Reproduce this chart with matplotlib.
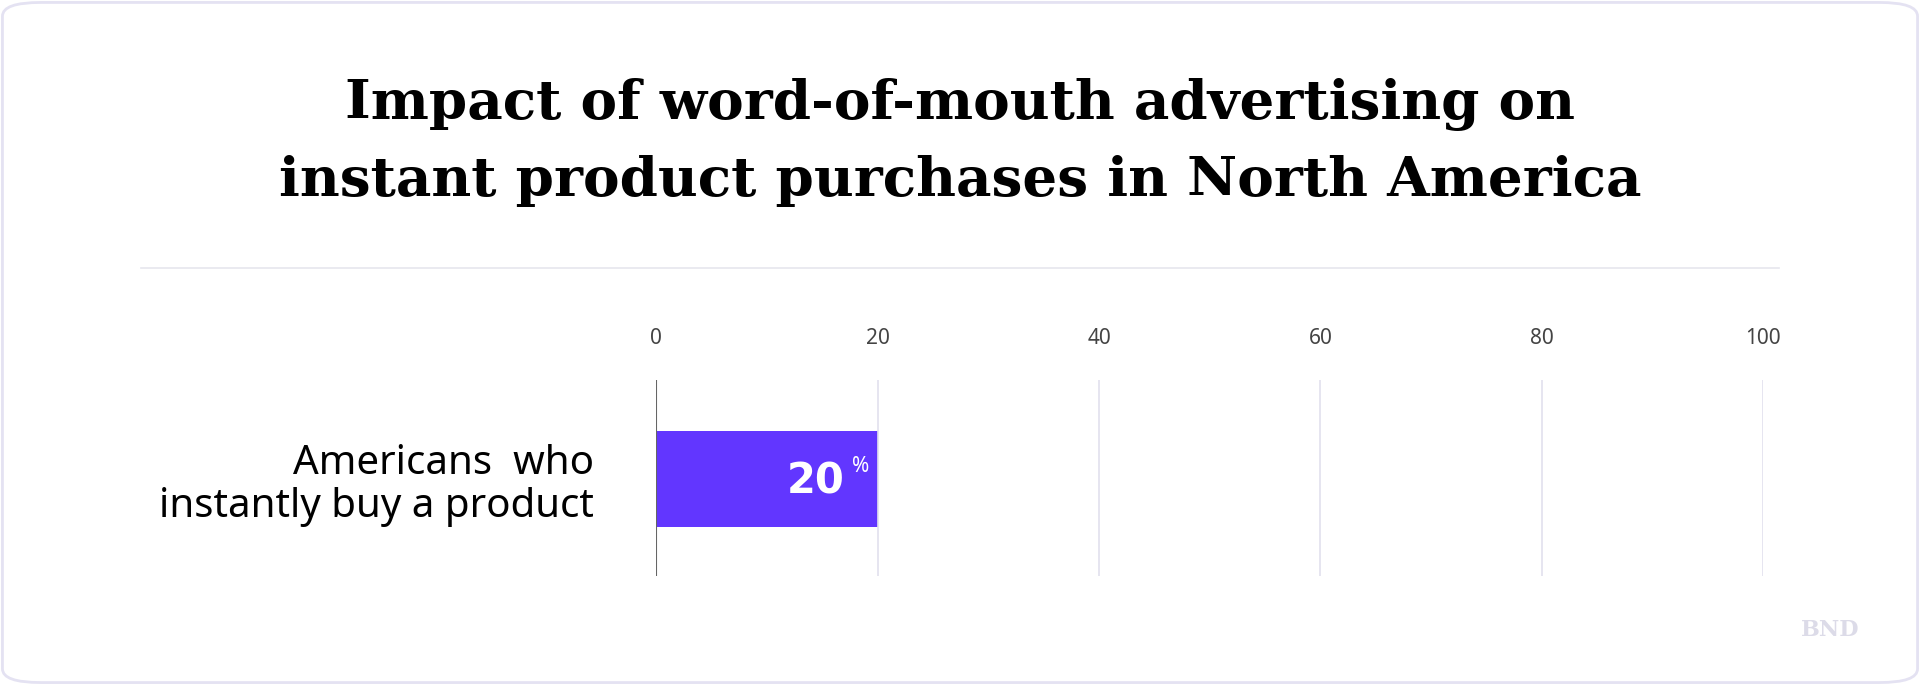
import matplotlib.pyplot as plt
from matplotlib.patches import FancyBboxPatch

categories = ["Americans  who\ninstantly buy a product"]
values = [20]
ticks = [0, 20, 40, 60, 80, 100]

W, H = 1568, 559  # layout reference units
fig = plt.figure(figsize=(19.2, 6.85), dpi=100)
fig.patches.append(FancyBboxPatch((2 / W, 2 / H), 1 - 4 / W, 1 - 4 / H,
                                  boxstyle="round,pad=0,rounding_size=0.02",
                                  transform=fig.transFigure, fc="white",
                                  ec="#e4e2f2", lw=2, zorder=-5))

fig.text(0.5, 1 - 85 / H, "Impact of word-of-mouth advertising on",
         ha="center", va="center", fontsize=39.5, fontweight="bold", family="DejaVu Serif")
fig.text(0.5, 1 - 148 / H, "instant product purchases in North America",
         ha="center", va="center", fontsize=39.5, fontweight="bold", family="DejaVu Serif")
fig.add_artist(plt.Line2D([115 / W, 1453 / W], [1 - 219 / H] * 2,
                          transform=fig.transFigure, color="#e6e6ee", lw=1.2))

ax = fig.add_axes([536 / W, 1 - 470 / H, 904 / W, 160 / H])
ax.patch.set_visible(False)
ax.set_xlim(0, 100)
ax.set_ylim(0, 1)
for t in ticks[1:]:
    ax.axvline(t, color="#e2e0ee", lw=1.2)
ax.axvline(0, color="#666666", lw=1.5)
ax.barh([0.494], values, height=0.4875, color="#6236ff")
for v in values:
    ax.text(v - 3.0, 0.48, f"{v}", ha="right", va="center", color="white",
            fontsize=30, fontweight="bold", family="DejaVu Sans")
    ax.text(v - 0.8, 0.56, "%", ha="right", va="center", color="white",
            fontsize=15, family="Noto Sans")
ax.set_yticks([0.494], categories)
ax.set_xticks(ticks)
ax.xaxis.tick_top()
ax.tick_params(axis="x", length=0, pad=22, labelsize=15, labelcolor="#444444")
ax.tick_params(axis="y", length=0, pad=45, labelsize=29)
for lbl in ax.get_yticklabels():
    lbl.set_ha("right")
    lbl.set_multialignment("right")
    lbl.set_family("Noto Sans")
    lbl.set_linespacing(1.1)
for lbl in ax.get_xticklabels():
    lbl.set_family("Noto Sans")
for s in ax.spines.values():
    s.set_visible(False)

fig.text(1495 / W, 1 - 514 / H, "BND", ha="center", va="center", fontsize=16,
         fontweight="bold", color="#dcdbe8", family="DejaVu Serif")
fig.savefig("out.png", dpi=100)
